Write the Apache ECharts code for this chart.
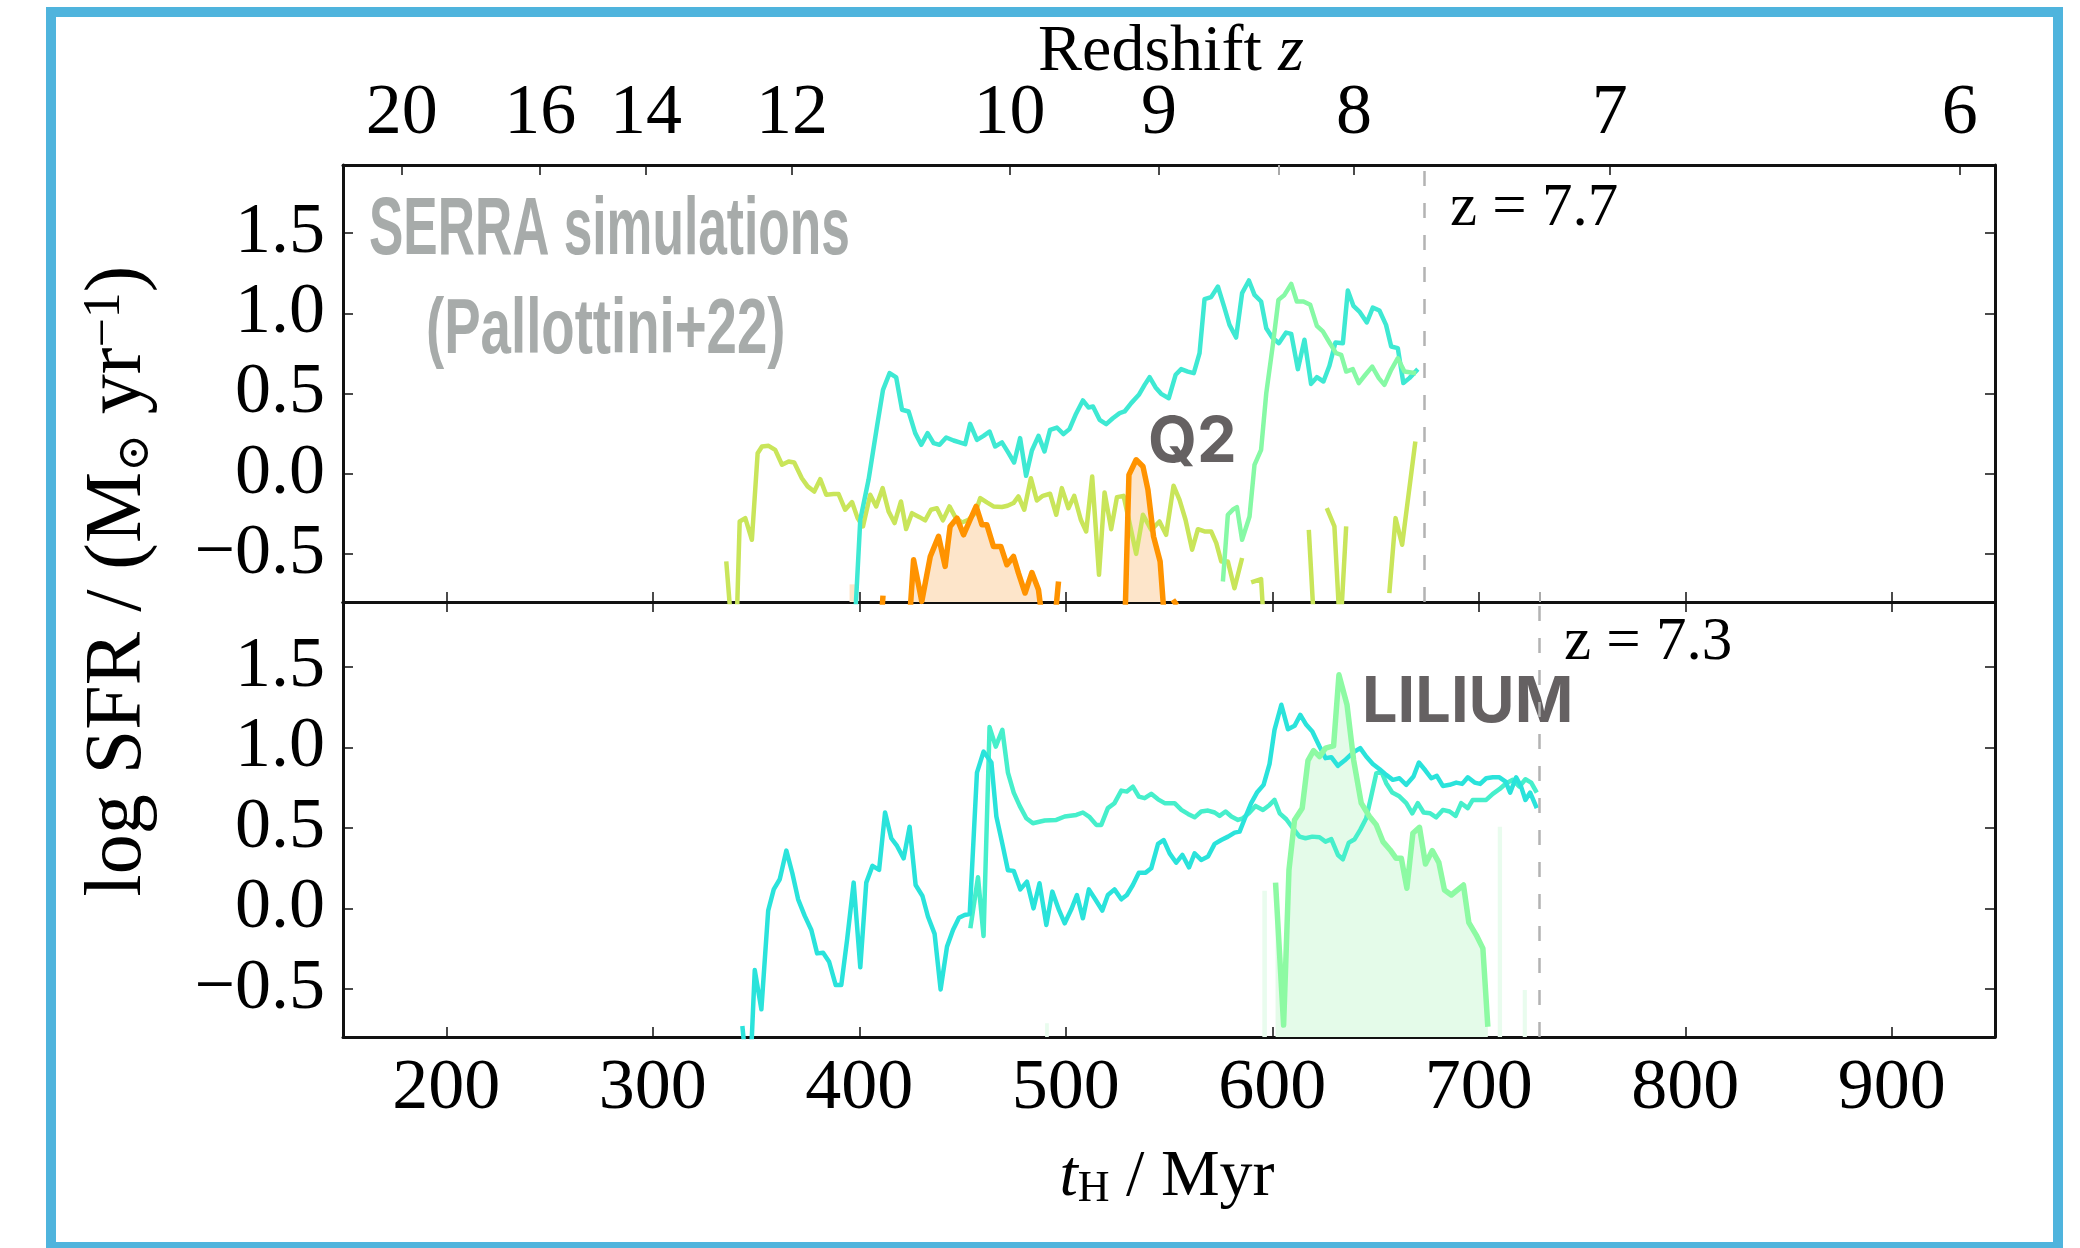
<!DOCTYPE html>
<html><head><meta charset="utf-8">
<script src="https://cdn.jsdelivr.net/npm/echarts@6/dist/echarts.min.js"></script>
<style>html,body{margin:0;padding:0;background:#fff}#c{width:2080px;height:1248px}</style>
</head><body><div id="c"></div>
<script>
// ---------- axis ticks ----------
const xTicks = [200, 300, 400, 500, 600, 700, 800, 900];
const yTicks = [-0.5, 0, 0.5, 1.0, 1.5];
const zTickTimes = [178.5, 245.5, 296.7, 367.4, 472.7, 545.2, 639.6, 763.4, 932.9];
const zTickLabels = ['20', '16', '14', '12', '10', '9', '8', '7', '6'];
const zLineQ2 = 673.5;      // z = 7.7
const zLineLilium = 729.5;  // z = 7.3
const grayTickTop = 603;

// ---------- top panel (Q2) ----------
const topCyan = [[397.6,-1.0],[400.5,-0.287],[404.5,-0.038],[408.6,0.295],[411.5,0.523],[414.7,0.627],[417.9,0.600],[420.7,0.399],[423.9,0.388],[427.1,0.253],[430.0,0.180],[433.1,0.253],[436.0,0.191],[438.9,0.180],[442.1,0.226],[445.7,0.207],[448.6,0.195],[451.3,0.184],[453.7,0.311],[457.0,0.211],[460.2,0.236],[463.1,0.263],[465.8,0.170],[469.1,0.195],[471.8,0.139],[475.0,0.070],[477.9,0.222],[480.8,-0.013],[483.6,0.145],[486.8,0.236],[489.7,0.139],[492.4,0.274],[495.7,0.288],[498.9,0.247],[501.8,0.278],[505.0,0.374],[508.3,0.457],[511.0,0.413],[513.2,0.419],[516.4,0.336],[519.6,0.309],[522.8,0.346],[526.1,0.378],[528.5,0.388],[531.7,0.440],[535.4,0.492],[538.2,0.554],[540.6,0.602],[543.5,0.538],[546.2,0.498],[549.9,0.471],[553.2,0.617],[555.9,0.652],[559.1,0.637],[562.0,0.627],[564.8,0.752],[567.2,1.088],[570.4,1.101],[573.7,1.167],[576.9,1.032],[579.3,0.928],[582.5,0.849],[585.4,1.126],[588.7,1.205],[591.4,1.115],[594.6,1.074],[597.1,0.907],[600.0,0.849],[603.2,0.814],[606.7,0.880],[609.2,0.872],[612.4,0.652],[615.6,0.835],[618.8,0.560],[621.6,0.602],[624.8,0.575],[627.7,0.673],[630.6,0.818],[634.2,0.814],[636.6,1.142],[639.3,1.047],[642.2,1.011],[645.8,0.943],[648.7,1.036],[651.9,1.018],[655.1,0.928],[657.6,0.793],[660.8,0.783],[663.5,0.565],[666.4,0.596],[670.5,0.652]];

const topGreen = [[576.1,-0.672],[578.5,-0.256],[581.2,-0.221],[582.9,-0.208],[585.4,-0.412],[589.0,-0.267],[591.4,0.055],[594.6,0.149],[597.1,0.502],[600.3,0.804],[603.0,1.084],[605.9,1.115],[609.2,1.184],[611.9,1.074],[615.1,1.074],[618.4,1.053],[621.6,0.922],[624.5,0.887],[627.7,0.818],[630.9,0.752],[633.4,0.741],[635.8,0.637],[639.0,0.652],[641.9,0.565],[645.1,0.617],[648.4,0.668],[651.6,0.596],[654.3,0.554],[657.6,0.648],[660.8,0.720],[664.0,0.637],[669.7,0.627]];

const topYellow = [[335.6,-0.547],[338.4,-1.0],[340.5,-1.0],[342.1,-0.298],[344.8,-0.277],[348.0,-0.412],[350.8,0.128],[352.9,0.170],[356.1,0.174],[359.3,0.149],[362.6,0.056],[365.8,0.076],[368.5,0.070],[372.2,-0.028],[375.0,-0.079],[378.2,-0.111],[381.1,-0.034],[384.0,-0.131],[387.6,-0.127],[390.0,-0.127],[393.2,-0.225],[396.5,-0.177],[399.2,-0.277],[401.8,-0.329],[405.3,-0.131],[408.2,-0.204],[411.3,-0.090],[414.2,-0.235],[417.1,-0.308],[420.2,-0.173],[422.7,-0.345],[425.5,-0.246],[429.2,-0.271],[431.9,-0.291],[434.7,-0.225],[437.6,-0.215],[440.5,-0.291],[443.7,-0.204],[446.5,-0.271],[449.7,-0.304],[452.9,-0.287],[456.1,-0.246],[458.6,-0.152],[461.8,-0.179],[465.0,-0.204],[469.1,-0.208],[471.8,-0.200],[474.7,-0.183],[477.1,-0.142],[479.9,-0.225],[483.1,-0.028],[486.0,-0.167],[488.9,-0.138],[492.4,-0.125],[495.4,-0.256],[498.1,-0.090],[501.3,-0.215],[504.1,-0.138],[507.3,-0.287],[509.9,-0.360],[512.8,-0.017],[516.1,-0.630],[518.8,-0.117],[522.0,-0.346],[524.8,-0.146],[528.0,-0.138],[530.9,-0.308],[534.1,-0.500],[537.4,-0.256],[541.4,-0.350],[545.4,-0.298],[548.6,-0.381],[552.2,-0.075],[555.1,-0.163],[558.0,-0.287],[561.2,-0.474],[564.0,-0.346],[567.2,-0.360],[570.4,-0.360],[572.9,-0.433],[575.3,-0.547],[578.5,-0.547],[581.7,-0.714],[585.4,-0.526],null,[589.8,-0.678],[594.6,-0.657],[596.2,-1.0],null,[617.7,-0.350],[620.5,-1.0],null,[626.4,-0.215],[630.1,-0.329],[632.9,-1.0],[635.8,-0.329],null,[656.7,-0.745],[659.7,-0.277],[662.9,-0.443],[669.3,0.201]];

const q2Orange = [[410.2,-1.0],[411.5,-0.76],null,[423.9,-1.0],[426.3,-0.537],[430.3,-0.796],[434.4,-0.516],[438.4,-0.391],[441.6,-0.578],[444.0,-0.329],[447.3,-0.277],[450.5,-0.381],[453.7,-0.287],[456.6,-0.204],[459.4,-0.318],[461.8,-0.318],[465.0,-0.454],[468.6,-0.454],[471.5,-0.568],[474.7,-0.516],[477.1,-0.620],[480.3,-0.744],[483.6,-0.616],[486.8,-0.724],[489.5,-1.0],null,[494.1,-1.0],[496.5,-0.672],null,[528.5,-1.0],[530.6,-0.007],[534.1,0.087],[537.4,0.045],[539.8,-0.100],[542.5,-0.391],[545.7,-0.547],[548.3,-1.0],null,[551.9,-0.786],[553.8,-0.82]];

const ghostTop = [[395.3,-0.69],[399.2,-0.69]];

// ---------- bottom panel (LILIUM) ----------
const botCyanA = [[343.4,-0.732],[345.4,-1.0],[347.3,-1.0],[349.4,-0.384],[352.6,-0.628],[355.9,-0.014],[358.6,0.118],[361.5,0.181],[364.7,0.359],[367.6,0.218],[370.4,0.056],[373.6,-0.047],[376.8,-0.135],[379.6,-0.280],[382.5,-0.276],[385.4,-0.332],[388.6,-0.477],[391.3,-0.477],[394.1,-0.197],[397.3,0.160],[400.5,-0.367],[403.4,0.160],[406.4,0.264],[409.6,0.239],[412.5,0.596],[415.5,0.436],[418.3,0.388],[421.5,0.311],[424.4,0.508],[427.3,0.145],[430.6,0.077],[433.3,-0.052],[436.5,-0.159],[439.4,-0.504],[442.5,-0.238],[445.4,-0.135],[448.3,-0.058],[451.0,-0.041],[453.5,-0.035],[457.0,0.844],[460.2,0.975],[464.0,0.907],[466.4,0.571],[469.3,0.401],[472.0,0.237],[474.8,0.233],[478.0,0.118],[481.2,0.166],[484.4,0.000],[487.3,0.156],[490.6,-0.103],[493.5,0.104],[496.7,-0.010],[499.5,-0.093],[502.7,-0.006],[505.4,0.083],[508.3,-0.062],[511.2,0.118],[514.5,0.052],[517.7,-0.014],[520.4,0.083],[523.6,0.118],[526.9,0.056],[529.6,0.083],[532.5,0.145],[535.4,0.222],[538.7,0.222],[541.4,0.249],[544.7,0.401],[547.4,0.425],[550.3,0.342],[553.5,0.284],[556.5,0.332],[559.7,0.255],[562.4,0.342],[565.6,0.301],[568.9,0.322],[572.1,0.401],[575.3,0.425],[578.6,0.446],[581.8,0.471],[584.2,0.477],[587.1,0.571],[589.8,0.654],[592.6,0.720],[595.8,0.768],[598.7,0.898],[601.1,1.110],[604.4,1.266],[607.6,1.114],[610.8,1.135],[613.6,1.203],[616.5,1.141],[619.4,1.100],[622.9,1.006],[625.8,0.934],[628.6,0.940],[631.8,0.886],[635.0,0.919],[639.1,0.969],[642.6,0.996],[645.5,0.944],[648.7,0.898],[652.0,0.865],[655.2,0.830],[658.4,0.799],[661.6,0.809],[664.9,0.768],[668.4,0.820],[671.0,0.907],[674.2,0.857],[677.0,0.809],[679.7,0.824],[682.6,0.761],[685.9,0.768],[689.1,0.782],[692.0,0.774],[694.7,0.815],[698.0,0.782],[700.7,0.774],[703.6,0.809],[706.8,0.815],[710.0,0.815],[713.0,0.788],[715.2,0.720],[718.1,0.815],[720.5,0.757],[722.6,0.674],[724.9,0.720],[728.1,0.623]];

const botCyanB = [[453.8,-0.124],[457.5,0.193],[460.2,-0.172],[463.1,1.127],[466.1,1.006],[469.3,1.110],[472.0,0.844],[474.8,0.720],[477.7,0.637],[480.9,0.560],[484.1,0.529],[489.8,0.546],[495.4,0.550],[499.5,0.571],[505.1,0.581],[508.3,0.596],[511.6,0.567],[514.8,0.519],[517.2,0.519],[520.4,0.623],[523.6,0.654],[526.9,0.732],[529.6,0.726],[532.5,0.757],[535.4,0.695],[538.2,0.685],[541.4,0.712],[544.7,0.678],[547.9,0.654],[552.7,0.654],[556.0,0.612],[559.2,0.587],[562.4,0.566],[565.6,0.602],[568.9,0.608],[572.1,0.596],[574.5,0.575],[577.4,0.602],[580.2,0.571],[583.4,0.550],[585.8,0.560],[589.0,0.596],[591.9,0.637],[595.5,0.612],[598.7,0.643],[601.1,0.674],[603.6,0.591],[606.8,0.554],[610.0,0.498],[613.2,0.446],[616.1,0.436],[619.4,0.446],[622.9,0.442],[625.8,0.415],[628.6,0.430],[631.8,0.332],[634.2,0.305],[637.1,0.409],[639.9,0.430],[642.6,0.488],[645.5,0.560],[647.9,0.695],[650.4,0.840],[652.8,0.851],[655.2,0.778],[658.1,0.720],[661.3,0.699],[664.9,0.654],[667.8,0.591],[670.5,0.654],[673.3,0.596],[676.5,0.591],[679.4,0.566],[682.6,0.612],[685.9,0.602],[688.8,0.575],[691.5,0.654],[694.7,0.623],[697.1,0.674],[700.4,0.674],[703.6,0.674],[706.8,0.712],[710.0,0.741],[713.3,0.778],[716.5,0.799],[719.7,0.757],[722.6,0.803],[725.4,0.782],[728.1,0.720]];

const liliumGreen = [[601.6,0.160],[605.5,-0.726],[608.1,0.239],[610.8,0.550],[614.5,0.623],[617.3,0.919],[620.0,0.981],[622.9,0.944],[625.8,0.996],[629.7,1.010],[632.3,1.452],[636.2,1.266],[639.4,0.923],[643.1,0.654],[647.1,0.571],[650.4,0.519],[653.6,0.415],[657.1,0.363],[660.0,0.311],[662.5,0.311],[665.2,0.125],[668.1,0.467],[671.3,0.504],[674.2,0.276],[677.5,0.359],[680.7,0.284],[683.4,0.114],[686.7,0.083],[692.6,0.145],[695.2,-0.089],[698.8,-0.166],[702.0,-0.249],[704.4,-0.736]];

const ghostBot = [[490.0,-0.715],[491.8,-0.715],null,[595.2,0.110],[597.4,0.110],null,[709.2,0.508],[711.3,0.508],null,[721.3,-0.508],[723.3,-0.508]];

// ---------- build ----------
const SERIF = '"Liberation Serif", "Times New Roman", serif';
const yMin = -0.8, yMaxTop = 1.925, yMaxBot = 1.905;
const pts = a => a.map(p => p === null ? ['-', '-'] : p);
const fmtY = v => (v < 0 ? '\u2212' : '') + Math.abs(v).toFixed(1);
const fmtZ = v => {
  let best = 0;
  zTickTimes.forEach((t, i) => { if (Math.abs(t - v) < Math.abs(zTickTimes[best] - v)) best = i; });
  return zTickLabels[best];
};
const axLine = { show: true, onZero: false, lineStyle: { color: '#111', width: 3 } };
const tick = vals => ({ show: true, inside: true, length: 10, lineStyle: { color: '#111', width: 1.5 }, customValues: vals });
const noLab = { show: false };
const labStyle = { fontFamily: SERIF, fontSize: 72, color: '#000' };

function xAxes(g, posTop) {
  return { gridIndex: g, type: 'value', min: 150, max: 950, position: posTop ? 'top' : 'bottom',
    axisLine: axLine, splitLine: { show: false } };
}
const xAxis = [
  Object.assign(xAxes(0, false), { axisTick: tick(xTicks), axisLabel: noLab }),
  Object.assign(xAxes(0, true), { axisTick: tick(zTickTimes),
    axisLabel: Object.assign({ customValues: zTickTimes, formatter: fmtZ, margin: 15 }, labStyle) }),
  Object.assign(xAxes(1, false), { axisTick: tick(xTicks),
    axisLabel: Object.assign({ customValues: xTicks, formatter: v => String(v), margin: 16 }, labStyle) }),
  Object.assign(xAxes(1, true), { axisTick: tick(xTicks), axisLabel: noLab })
];
function yAx(g, right, max) {
  return { gridIndex: g, type: 'value', min: yMin, max: max, position: right ? 'right' : 'left',
    axisLine: axLine, splitLine: { show: false }, axisTick: tick(yTicks),
    axisLabel: right ? noLab : Object.assign({ customValues: yTicks, formatter: fmtY, margin: 18 }, labStyle) };
}
const yAxis = [yAx(0, false, yMaxTop), yAx(0, true, yMaxTop), yAx(1, false, yMaxBot), yAx(1, true, yMaxBot)];

function lineS(data, color, width, xi, yi, extra) {
  return Object.assign({ type: 'line', xAxisIndex: xi, yAxisIndex: yi, data: pts(data), symbol: 'none',
    showSymbol: false, connectNulls: false, clip: true, silent: true,
    lineStyle: { color: color, width: width, join: 'round' } }, extra || {});
}
function areaS(data, color, xi, yi) {
  return { type: 'line', xAxisIndex: xi, yAxisIndex: yi, data: pts(data), symbol: 'none', showSymbol: false,
    connectNulls: false, clip: true, silent: true, lineStyle: { width: 0, opacity: 0 },
    areaStyle: { color: color, opacity: 1, origin: 'start' }, z: 1 };
}
const dashStyle = { type: [15, 17], color: '#b3b3b3', width: 2.5 };
const grayTick = { type: 'solid', color: '#aaaaaa', width: 2 };

const series = [
  areaS(ghostTop, '#fde5ca', 0, 0),
  areaS(q2Orange, '#fde5ca', 0, 0),
  lineS(topYellow, '#c9e55a', 4.5, 0, 0),
  lineS(topCyan, '#3ee9d3', 4.5, 0, 0, {
    markLine: { silent: true, symbol: ['none', 'none'], label: { show: false }, animation: false,
      lineStyle: dashStyle,
      data: [
        { xAxis: zLineQ2, lineStyle: dashStyle },
        [{ coord: [grayTickTop, yMaxTop], lineStyle: grayTick }, { coord: [grayTickTop, yMaxTop - 0.062], lineStyle: grayTick }],
        [{ coord: [zLineLilium, yMin], lineStyle: grayTick }, { coord: [zLineLilium, yMin + 0.062], lineStyle: grayTick }]
      ] } }),
  lineS(topGreen, '#86f9a5', 4.5, 0, 0),
  lineS(q2Orange, '#ff9300', 5.5, 0, 0),

  areaS(ghostBot, '#e9fcee', 2, 2),
  areaS(liliumGreen, '#e4fbe9', 2, 2),
  lineS(botCyanB, '#46efcb', 4.5, 2, 2),
  lineS(botCyanA, '#2ae3db', 4.5, 2, 2),
  lineS(liliumGreen, '#8dfaa3', 5.5, 2, 2, {
    markLine: { silent: true, symbol: ['none', 'none'], label: { show: false }, animation: false,
      lineStyle: dashStyle, data: [{ xAxis: zLineLilium, lineStyle: dashStyle }] } })
];

const graphic = [
  { type: 'rect', shape: { x: 51, y: 12, width: 2007, height: 1235 }, style: { fill: 'none', stroke: '#4fb4dd', lineWidth: 10 }, z: 100, silent: true },
  { type: 'text', x: 369, y: 232, scaleX: 0.636, silent: true,
    style: { text: 'SERRA simulations', fontFamily: '"Liberation Sans", Arial, sans-serif', fontWeight: 'bold', fontSize: 81, fill: '#a7abaa', align: 'left', verticalAlign: 'middle' } },
  { type: 'text', x: 426, y: 331, scaleX: 0.70, silent: true,
    style: { text: '(Pallottini+22)', fontFamily: '"Liberation Sans", Arial, sans-serif', fontWeight: 'bold', fontSize: 78, fill: '#a7abaa', align: 'left', verticalAlign: 'middle' } },
  { type: 'text', x: 1148, y: 443, silent: true,
    style: { text: 'Q2', fontFamily: 'Inter, "Open Sans", sans-serif', fontWeight: 'bold', fontSize: 63, fill: '#656162', align: 'left', verticalAlign: 'middle' } },
  { type: 'text', x: 1362, y: 703, silent: true,
    style: { text: 'LILIUM', fontFamily: 'Inter, "Open Sans", sans-serif', fontWeight: 'bold', fontSize: 63, fill: '#656162', align: 'left', verticalAlign: 'middle' } },
  { type: 'text', x: 1450, y: 209, silent: true,
    style: { text: 'z = 7.7', fontFamily: SERIF, fontSize: 61, fill: '#000', align: 'left', verticalAlign: 'middle' } },
  { type: 'text', x: 1564, y: 643, silent: true,
    style: { text: 'z = 7.3', fontFamily: SERIF, fontSize: 61, fill: '#000', align: 'left', verticalAlign: 'middle' } },
  { type: 'text', x: 1171, y: 53, silent: true,
    style: { text: '{a|Redshift }{i|z}', align: 'center', verticalAlign: 'middle',
      rich: { a: { fontFamily: SERIF, fontSize: 66, fill: '#000' }, i: { fontFamily: SERIF, fontSize: 66, fontStyle: 'italic', fill: '#000' } } } },
  { type: 'text', x: 1167, y: 1178, silent: true,
    style: { text: '{i|t}{s|H}{a| / Myr}', align: 'center', verticalAlign: 'middle',
      rich: { a: { fontFamily: SERIF, fontSize: 66, fill: '#000', lineHeight: 66 },
              i: { fontFamily: SERIF, fontSize: 66, fontStyle: 'italic', fill: '#000', lineHeight: 66 },
              s: { fontFamily: SERIF, fontSize: 44, fill: '#000', lineHeight: 30, verticalAlign: 'bottom' } } } },
  { type: 'text', x: 119, y: 581, rotation: Math.PI / 2, silent: true,
    style: { text: '{a|log SFR / (M}{s|\u2299}{a| yr}{p|\u22121}{a|)}', align: 'center', verticalAlign: 'middle',
      rich: { a: { fontFamily: SERIF, fontSize: 80, fill: '#000', lineHeight: 80 },
              s: { fontFamily: '"DejaVu Serif", serif', fontSize: 45, fill: '#000', lineHeight: 32, verticalAlign: 'bottom' },
              p: { fontFamily: SERIF, fontSize: 52, fill: '#000', lineHeight: 12, verticalAlign: 'top' } } } }
];

const chart = echarts.init(document.getElementById('c'), null, { renderer: 'canvas', width: 2080, height: 1248 });
chart.setOption({
  animation: false,
  backgroundColor: '#ffffff',
  grid: [{ left: 343, top: 165, width: 1652, height: 437 }, { left: 343, top: 602, width: 1652, height: 435 }],
  xAxis: xAxis,
  yAxis: yAxis,
  series: series,
  graphic: graphic
});
</script>
</body></html>
